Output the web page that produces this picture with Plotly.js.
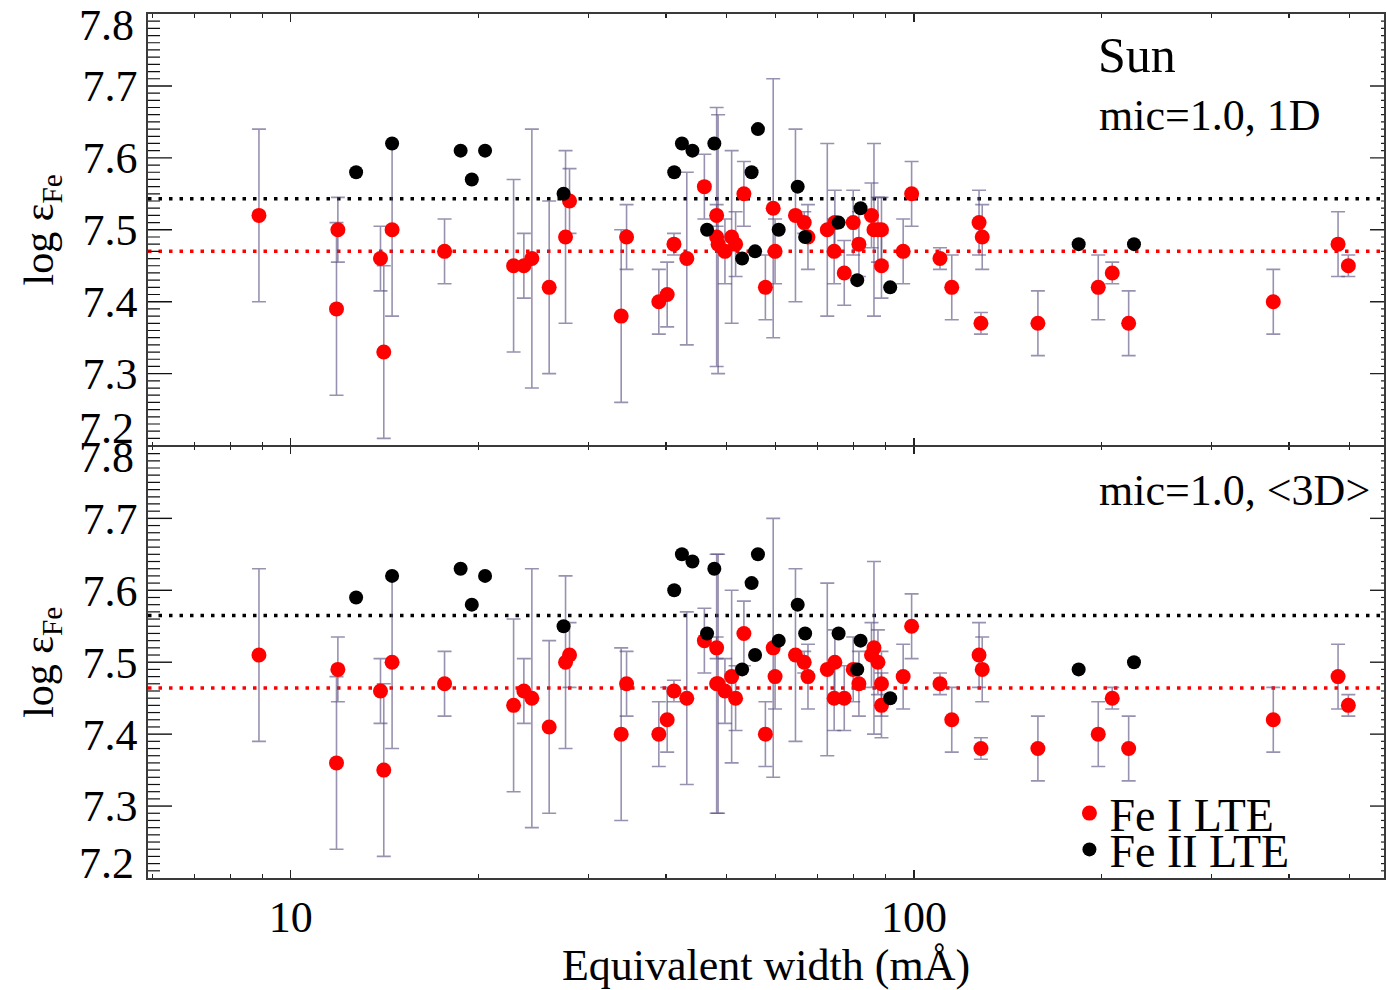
<!DOCTYPE html>
<html>
<head>
<meta charset="utf-8">
<script src="https://cdn.plot.ly/plotly-3.0.1.min.js"></script>
<style>html,body{margin:0;padding:0;background:#fff;}</style>
</head>
<body>
<div id="chart" style="width:1387px;height:990px;"></div>
<script>
// ---- Fe I lines (red) ----
const ewFe1 = [8.89, 11.9, 11.84, 13.93, 14.1, 14.54, 17.65, 22.78, 23.66, 24.37,
  25.98, 28.01, 27.6, 33.9, 34.58, 38.96, 40.18, 41.2, 43.2, 46.1,
  48.24, 48.24, 48.5, 49.74, 50.99, 51.74, 53.35, 57.76, 59.45, 59.86,
  64.55, 66.67, 67.6, 72.6, 74.66, 74.47, 77.3, 79.9, 81.6, 85.48,
  86.27, 87.55, 88.7, 88.7, 96.1, 99.15, 110.1, 115.0, 127.2, 128.7,
  128.1, 158.1, 197.6, 208.1, 221.1, 377.3, 479.3, 497.9];
const fe1_1D = [7.52, 7.50, 7.39, 7.46, 7.33, 7.50, 7.47, 7.45, 7.45, 7.46,
  7.42, 7.54, 7.49, 7.38, 7.49, 7.40, 7.41, 7.48, 7.46, 7.56,
  7.52, 7.49, 7.48, 7.47, 7.49, 7.48, 7.55, 7.42, 7.53, 7.47,
  7.52, 7.51, 7.49, 7.50, 7.51, 7.47, 7.44, 7.51, 7.48, 7.52,
  7.50, 7.50, 7.50, 7.45, 7.47, 7.55, 7.46, 7.42, 7.51, 7.49,
  7.37, 7.37, 7.42, 7.44, 7.37, 7.40, 7.48, 7.45];
const fe1_3D = [7.51, 7.49, 7.36, 7.46, 7.35, 7.50, 7.47, 7.44, 7.46, 7.45,
  7.41, 7.51, 7.50, 7.40, 7.47, 7.40, 7.42, 7.46, 7.45, 7.53,
  7.52, 7.47, 7.47, 7.46, 7.48, 7.45, 7.54, 7.40, 7.52, 7.48,
  7.51, 7.50, 7.48, 7.49, 7.50, 7.45, 7.45, 7.49, 7.47, 7.51,
  7.52, 7.50, 7.47, 7.44, 7.48, 7.55, 7.47, 7.42, 7.51, 7.49,
  7.38, 7.38, 7.40, 7.45, 7.38, 7.42, 7.48, 7.44];
const fe1Err = [0.12, 0.045, 0.12, 0.045, 0.12, 0.12, 0.045, 0.12, 0.045, 0.18,
  0.12, 0.045, 0.12, 0.12, 0.045, 0.045, 0.045, 0.015, 0.12, 0.045,
  0.015, 0.18, 0.18, 0.045, 0.12, 0.045, 0.045, 0.045, 0.18, 0.045,
  0.12, 0.015, 0.045, 0.12, 0.045, 0.045, 0.045, 0.045, 0.045, 0.045,
  0.12, 0.045, 0.045, 0.045, 0.045, 0.045, 0.015, 0.045, 0.045, 0.045,
  0.015, 0.045, 0.045, 0.015, 0.045, 0.045, 0.045, 0.015];

// ---- Fe II lines (black) ----
const ewFe2 = [12.73, 14.54, 18.73, 19.52, 20.50, 27.40, 41.24, 42.43, 44.11, 46.56,
  47.83, 53.0, 54.89, 55.6, 56.19, 60.67, 65.08, 66.9, 75.7, 81.1,
  82.1, 91.6, 183.8, 225.5];
const fe2_1D = [7.58, 7.62, 7.61, 7.57, 7.61, 7.55, 7.58, 7.62, 7.61, 7.50,
  7.62, 7.46, 7.58, 7.47, 7.64, 7.50, 7.56, 7.49, 7.51, 7.43,
  7.53, 7.42, 7.48, 7.48];
const fe2_3D = [7.59, 7.62, 7.63, 7.58, 7.62, 7.55, 7.60, 7.65, 7.64, 7.54,
  7.63, 7.49, 7.61, 7.51, 7.65, 7.53, 7.58, 7.54, 7.54, 7.49,
  7.53, 7.45, 7.49, 7.50];

// ---- mean abundances (dotted lines): [Fe I, Fe II] ----
const mean1D = [7.470, 7.543];
const mean3D = [7.464, 7.565];

const yTickVals = [7.2, 7.3, 7.4, 7.5, 7.6, 7.7, 7.8];
const yTickText = ['', '7.3', '7.4', '7.5', '7.6', '7.7', ''];
const yEdgeVals = [7.2, 7.8];
const yMinorStep = 0.01;
const xTickVals = [10, 100];
const xTickText = ['10', '100'];
const xMinorVals = [6, 7, 8, 9, 20, 30, 40, 50, 60, 70, 80, 90, 200, 300, 400, 500];
const panelLabels = ['Sun', 'mic=1.0, 1D', 'mic=1.0, &lt;3D&gt;'];
const legendNames = ['Fe I LTE', 'Fe II LTE'];

const FONT = 'Liberation Serif, Times New Roman, serif';
const errStyle = {type: 'data', visible: true, color: 'rgba(88,78,128,0.62)', thickness: 1.6, width: 7};

const traces = [
  {x: ewFe1, y: fe1_1D, xaxis: 'x2', yaxis: 'y2', type: 'scatter', mode: 'markers',
   marker: {color: '#ff0000', size: 15}, error_y: Object.assign({array: fe1Err}, errStyle),
   showlegend: false, name: legendNames[0]},
  {x: ewFe2, y: fe2_1D, xaxis: 'x2', yaxis: 'y2', type: 'scatter', mode: 'markers',
   marker: {color: '#000000', size: 14}, showlegend: false, name: legendNames[1]},
  {x: ewFe1, y: fe1_3D, xaxis: 'x', yaxis: 'y', type: 'scatter', mode: 'markers',
   marker: {color: '#ff0000', size: 15}, error_y: Object.assign({array: fe1Err}, errStyle),
   showlegend: true, legend: 'legend', name: legendNames[0]},
  {x: ewFe2, y: fe2_3D, xaxis: 'x', yaxis: 'y', type: 'scatter', mode: 'markers',
   marker: {color: '#000000', size: 14}, showlegend: true, legend: 'legend2', name: legendNames[1]}
];

const xr = [Math.log10(5.9), Math.log10(568)];
const lineCol = '#3a3a3a';

function xAxis(extra) {
  return Object.assign({
    type: 'log', range: xr, showline: true, linecolor: lineCol, linewidth: 1.6,
    mirror: 'ticks', ticks: 'inside', ticklen: 8, tickwidth: 1.3, tickcolor: '#222',
    tickmode: 'array', tickvals: xTickVals, ticktext: xTickText,
    minor: {tickmode: 'array', tickvals: xMinorVals, ticks: 'inside', ticklen: 4, tickwidth: 1.2, tickcolor: '#222'},
    showgrid: false, zeroline: false,
    tickfont: {family: FONT, size: 44, color: '#000'}
  }, extra);
}
function yAxis(domain, extra) {
  return Object.assign({
    domain: domain, range: [7.2, 7.8], showline: true, linecolor: lineCol, linewidth: 1.6,
    mirror: true, ticks: '',
    tickmode: 'array', tickvals: yTickVals, ticktext: yTickText, ticksuffix: '\u2009',
    showgrid: false, zeroline: false,
    tickfont: {family: FONT, size: 44, color: '#000'},
    title: {text: 'log ε<sub>Fe</sub>', font: {family: FONT, size: 42, color: '#000'}}
  }, extra);
}

const shapes = [];
[[mean1D, 'y2'], [mean3D, 'y']].forEach(([m, yref]) => {
  shapes.push({type: 'line', xref: 'paper', x0: 0, x1: 1, yref: yref, y0: m[0], y1: m[0],
    line: {color: '#ff0000', width: 3.5, dash: '3.5px,7px'}, layer: 'below'});
  shapes.push({type: 'line', xref: 'paper', x0: 0, x1: 1, yref: yref, y0: m[1], y1: m[1],
    line: {color: '#000000', width: 3.5, dash: '3.5px,7px'}, layer: 'below'});
});

// y-axis tick marks (inside, long on the left, short on the right), placed through each y scale
function addYTicks(yref) {
  const lo = yTickVals[0], hi = yTickVals[yTickVals.length - 1];
  const n = Math.round((hi - lo) / yMinorStep);
  for (let i = 1; i < n; i++) {
    const v = +(lo + i * yMinorStep).toFixed(2);
    const major = i % 10 === 0;
    const lenL = major ? 24 : 12;
    const lenR = major ? 14 : 3;
    const w = major ? 1.4 : 1.2;
    shapes.push({type: 'line', xref: 'paper', xsizemode: 'pixel', xanchor: 0, x0: 0, x1: lenL,
      yref: yref, y0: v, y1: v, line: {color: '#111', width: w}, layer: 'above'});
    shapes.push({type: 'line', xref: 'paper', xsizemode: 'pixel', xanchor: 1, x0: -lenR, x1: 0,
      yref: yref, y0: v, y1: v, line: {color: '#222', width: w}, layer: 'above'});
  }
}
addYTicks('y');
addYTicks('y2');

const annotations = [
  {text: panelLabels[0], xref: 'paper', yref: 'paper', x: 0.767, y: 0.952, xanchor: 'left', yanchor: 'middle',
   showarrow: false, font: {family: FONT, size: 50, color: '#000'}},
  {text: panelLabels[1], xref: 'paper', yref: 'paper', x: 0.768, y: 0.883, xanchor: 'left', yanchor: 'middle',
   showarrow: false, font: {family: FONT, size: 44, color: '#000'}},
  {text: panelLabels[2], xref: 'paper', yref: 'paper', x: 0.768, y: 0.449, xanchor: 'left', yanchor: 'middle',
   showarrow: false, font: {family: FONT, size: 44, color: '#000'}}
];
// end-of-axis tick labels, nudged inside each panel as in the original
[['y2', yEdgeVals[1], -11], ['y2', yEdgeVals[0], 17], ['y', yEdgeVals[1], -11], ['y', yEdgeVals[0], 15]].forEach(([yr, v, sh]) => {
  annotations.push({text: v.toFixed(1), xref: 'paper', yref: yr, x: 0, y: v, xanchor: 'right', yanchor: 'middle',
    xshift: -12, yshift: sh, showarrow: false, font: {family: FONT, size: 44, color: '#000'}});
});

const legendBase = {
  xanchor: 'left', yanchor: 'middle', bgcolor: 'rgba(0,0,0,0)', borderwidth: 0,
  font: {family: FONT, size: 46, color: '#000'}, itemwidth: 30, tracegroupgap: 0
};

const layout = {
  width: 1387, height: 990,
  margin: {l: 148, r: 3, t: 14, b: 112},
  paper_bgcolor: '#fff', plot_bgcolor: 'rgba(0,0,0,0)',
  showlegend: true,
  legend: Object.assign({x: 0.7455, y: 0.075}, legendBase),
  legend2: Object.assign({x: 0.7455, y: 0.033}, legendBase),
  xaxis: xAxis({anchor: 'y',
    title: {text: 'Equivalent width (mÅ)', font: {family: FONT, size: 44, color: '#000'}, standoff: 14}}),
  xaxis2: xAxis({anchor: 'y2', matches: 'x', showticklabels: false}),
  yaxis: yAxis([0, 0.4995], {anchor: 'x'}),
  yaxis2: yAxis([0.5005, 1], {anchor: 'x2'}),
  shapes: shapes,
  annotations: annotations
};

Plotly.newPlot('chart', traces, layout, {staticPlot: true, displayModeBar: false});
</script>
</body>
</html>
